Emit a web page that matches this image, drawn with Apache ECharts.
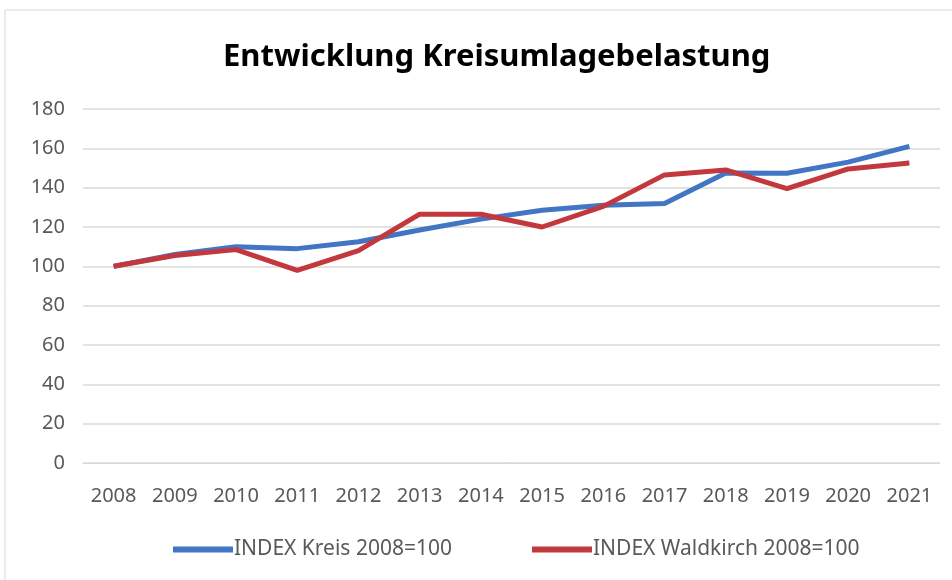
<!DOCTYPE html>
<html>
<head>
<meta charset="utf-8">
<title>Entwicklung Kreisumlagebelastung</title>
<script src="https://cdn.jsdelivr.net/npm/echarts@6/dist/echarts.min.js"></script>
<style>
  html, body { margin: 0; padding: 0; background: #fff; }
  #chart { width: 952px; height: 580px; }
</style>
</head>
<body>
<div id="chart"></div>
<script>
// Daten
var years = ['2008', '2009', '2010', '2011', '2012', '2013', '2014', '2015', '2016', '2017', '2018', '2019', '2020', '2021'];
var indexKreis = [100, 106, 110, 109, 112.5, 118.5, 124, 128.5, 131, 132, 147.5, 147.3, 153, 161];
var indexWaldkirch = [100, 105.5, 108.5, 98, 108, 126.5, 126.5, 120, 130.5, 146.5, 149, 139.5, 149.5, 152.5];
var yTicks = [0, 20, 40, 60, 80, 100, 120, 140, 160, 180];

var chart = echarts.init(document.getElementById('chart'));
var font = 'Noto Sans, sans-serif';

var option = {
  backgroundColor: '#fff',
  animation: false,
  title: {
    text: 'Entwicklung Kreisumlagebelastung',
    left: 218,
    top: 37,
    textStyle: { fontFamily: font, fontWeight: 'bold', fontSize: 31, color: '#000' }
  },
  graphic: [{
    type: 'rect',
    shape: { x: 5, y: 10, width: 960, height: 590 },
    style: { fill: 'none', stroke: '#d9d9d9', lineWidth: 1 },
    silent: true
  }],
  legend: {
    bottom: 15,
    left: 168,
    itemWidth: 60,
    itemHeight: 6,
    itemGap: 80,
    icon: 'rect',
    textStyle: { fontFamily: font, fontSize: 21, color: '#595959', padding: [0, 0, 0, -4] },
    data: ['INDEX Kreis 2008=100', 'INDEX Waldkirch 2008=100']
  },
  grid: { left: 83, right: 12, top: 109, bottom: 117, containLabel: false },
  xAxis: {
    type: 'category',
    data: years,
    boundaryGap: true,
    axisLine: { show: true, lineStyle: { color: '#d9d9d9', width: 1 } },
    axisTick: { show: false },
    axisLabel: { fontFamily: font, fontSize: 20, color: '#595959', margin: 23, interval: 0 }
  },
  yAxis: {
    type: 'value',
    min: yTicks[0],
    max: yTicks[yTicks.length - 1],
    interval: 20,
    axisLine: { show: false },
    axisTick: { show: false },
    axisLabel: { fontFamily: font, fontSize: 20, color: '#595959', margin: 18 },
    splitLine: { lineStyle: { color: '#d9d9d9', width: 1.5 } }
  },
  series: [
    {
      name: 'INDEX Kreis 2008=100',
      type: 'line',
      data: indexKreis,
      symbol: 'none',
      color: '#4275c4',
      lineStyle: { width: 5, color: '#4275c4' }
    },
    {
      name: 'INDEX Waldkirch 2008=100',
      type: 'line',
      data: indexWaldkirch,
      symbol: 'none',
      color: '#c2383d',
      lineStyle: { width: 5, color: '#c2383d' }
    }
  ]
};

chart.setOption(option);
</script>
</body>
</html>
